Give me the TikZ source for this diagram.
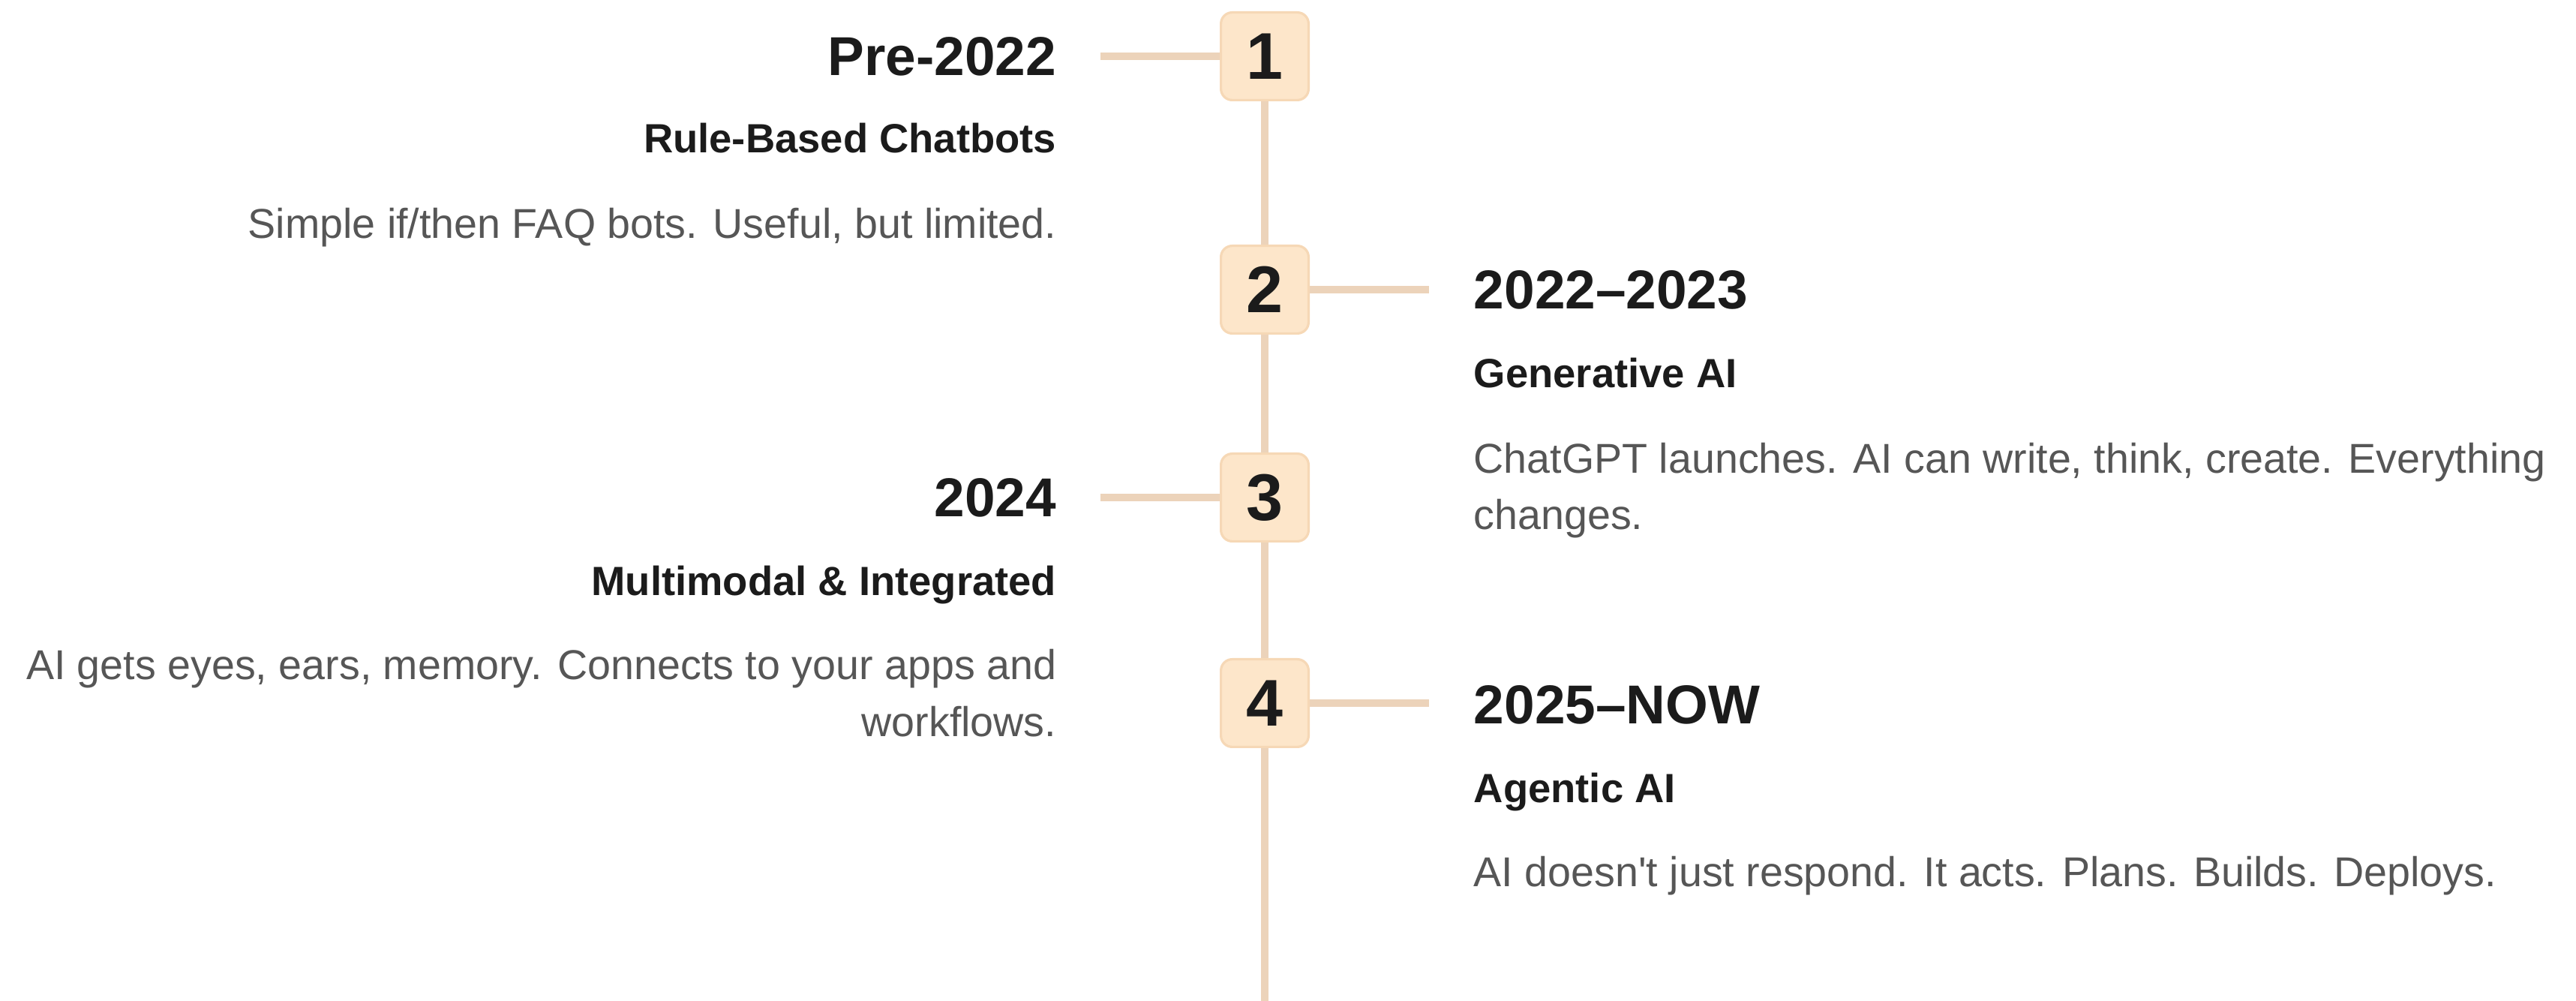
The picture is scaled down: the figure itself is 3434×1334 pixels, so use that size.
\documentclass[tikz,border=0pt]{standalone}
\usepackage{fontspec}
\setmainfont{Liberation Sans}[Ligatures=TeXOff]
\usetikzlibrary{calc}

\definecolor{railclr}{HTML}{ECD3BA}
\definecolor{boxfill}{HTML}{FDE6CA}
\definecolor{boxedge}{HTML}{F6D8B6}
\definecolor{inkdark}{HTML}{1B1B1B}
\definecolor{inkbody}{HTML}{565656}

\tikzset{
  stepnum/.style={draw=boxedge, line width=0.8pt, fill=boxfill, rounded corners=3.75pt,
    minimum size=29.2pt, inner sep=0pt, text=inkdark,
    font=\bfseries\fontsize{22}{24}\selectfont},
  rail/.style={draw=railclr, line width=2.3pt},
  yeartitle/.style={inner sep=0pt, text=inkdark, font=\bfseries\fontsize{18.25}{22}\selectfont},
  phasename/.style={inner sep=0pt, text=inkdark, font=\bfseries\fontsize{13.6}{16}\selectfont},
  phasenote/.style={inner sep=0pt, text=inkbody, font=\fontsize{13.9}{18.75}\selectfont},
}

\begin{document}
\begin{tikzpicture}[x=0.25pt, y=-0.25pt]
\useasboundingbox (0,0) rectangle (3434,1334);

% Steps on the rail
\node[stepnum] (n1) at (1686,75)  {1};
\node[stepnum] (n2) at (1686,386) {2};
\node[stepnum] (n3) at (1686,663) {3};
\node[stepnum] (n4) at (1686,937) {4};
\coordinate (railend) at (1686,1334);

\draw[rail] (n1.south) -- (n2.north);
\draw[rail] (n2.south) -- (n3.north);
\draw[rail] (n3.south) -- (n4.north);
\draw[rail] (n4.south) -- (railend);

% Ticks to the labels
\coordinate (k1) at (1467,75);
\coordinate (k2) at (1905,386);
\coordinate (k3) at (1467,663);
\coordinate (k4) at (1905,937);
\draw[rail] (n1.west) -- (k1);
\draw[rail] (n2.east) -- (k2);
\draw[rail] (n3.west) -- (k3);
\draw[rail] (n4.east) -- (k4);

% Left side (base of a two-line note is its last line)
\node[yeartitle, anchor=base east] (y1) at (1409,101) {Pre-2022};
\node[phasename, anchor=base east] (p1) at (1409,204) {Rule-Based Chatbots};
\node[phasenote, anchor=base east] (d1) at (1409,318) {Simple if/then FAQ bots. Useful, but limited.};

\node[yeartitle, anchor=base east] (y3) at (1409,689) {2024};
\node[phasename, anchor=base east] (p3) at (1409,794) {Multimodal \& Integrated};
\node[phasenote, anchor=base east, align=right] (d3) at (1409,981)
  {AI gets eyes, ears, memory. Connects to your apps and\\workflows.};

% Right side
\node[yeartitle, anchor=base west] (y2) at (1964,412) {2022–2023};
\node[phasename, anchor=base west] (p2) at (1964,517) {Generative AI};
\node[phasenote, anchor=base west, align=left] (d2) at (1964,706)
  {ChatGPT launches. AI can write, think, create. Everything\\changes.};

\node[yeartitle, anchor=base west] (y4) at (1964,964) {2025–NOW};
\node[phasename, anchor=base west] (p4) at (1964,1069) {Agentic AI};
\node[phasenote, anchor=base west] (d4) at (1964,1181) {AI doesn't just respond. It acts. Plans. Builds. Deploys.};
\end{tikzpicture}
\end{document}
